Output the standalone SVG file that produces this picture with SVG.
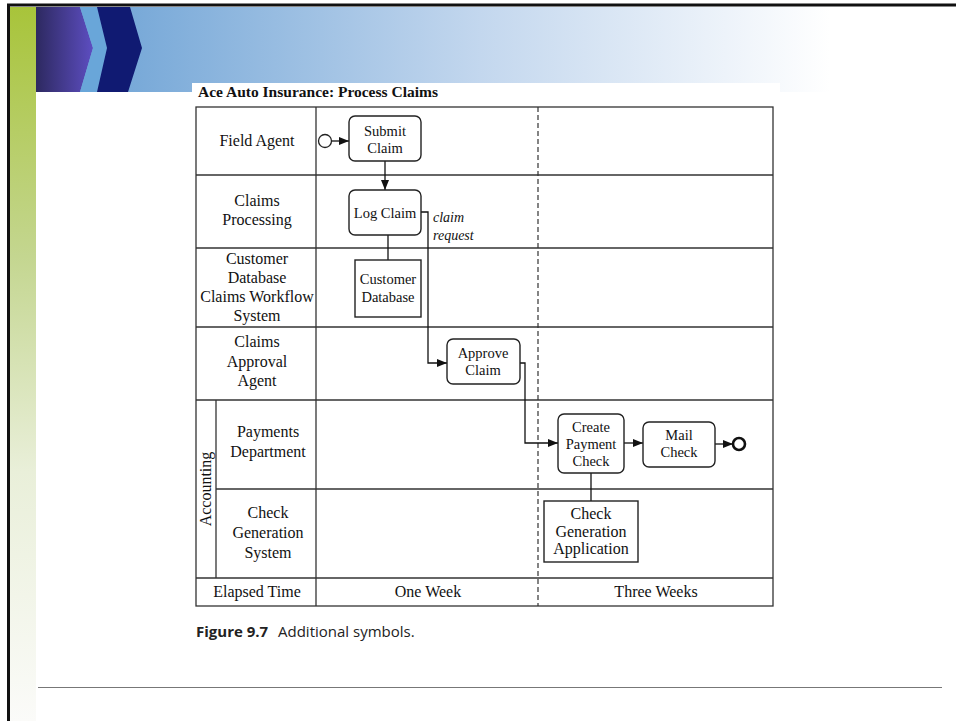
<svg xmlns="http://www.w3.org/2000/svg" width="956" height="721" viewBox="0 0 956 721">
  <defs>
    <linearGradient id="bandGrad" x1="130" y1="0" x2="830" y2="0" gradientUnits="userSpaceOnUse">
      <stop offset="0" stop-color="#78a9d8"/>
      <stop offset="0.5" stop-color="#c3d7ee"/>
      <stop offset="1" stop-color="#ffffff"/>
    </linearGradient>
    <linearGradient id="greenGrad" x1="0" y1="7" x2="0" y2="721" gradientUnits="userSpaceOnUse">
      <stop offset="0" stop-color="#a8c43a"/>
      <stop offset="0.35" stop-color="#c4d690"/>
      <stop offset="0.65" stop-color="#e9efd9"/>
      <stop offset="1" stop-color="#fbfbf9"/>
    </linearGradient>
    <linearGradient id="purpleGrad" x1="36" y1="0" x2="92" y2="0" gradientUnits="userSpaceOnUse">
      <stop offset="0" stop-color="#2d2960"/>
      <stop offset="1" stop-color="#5c4dbf"/>
    </linearGradient>
    <marker id="arrow" viewBox="0 0 10 8" refX="10" refY="4" markerWidth="10" markerHeight="8" markerUnits="userSpaceOnUse" orient="auto">
      <path d="M0,0 L10,4 L0,8 Z" fill="#111"/>
    </marker>
  </defs>
  <style>
    .lane { font-family: "Liberation Serif", "DejaVu Serif", serif; font-size: 16px; fill: #111; text-anchor: middle; }
    .box { font-family: "Liberation Serif", "DejaVu Serif", serif; font-size: 14.5px; fill: #111; text-anchor: middle; }
    .big { font-family: "Liberation Serif", "DejaVu Serif", serif; font-size: 16px; fill: #111; text-anchor: middle; }
    .note { font-family: "Liberation Serif", "DejaVu Serif", serif; font-size: 14px; font-style: italic; fill: #111; }
    .grid { stroke: #333; stroke-width: 1.3; fill: none; }
    .task { fill: #fff; stroke: #222; stroke-width: 1.4; }
    .sys { fill: #fff; stroke: #222; stroke-width: 1.4; }
    .flow { stroke: #111; stroke-width: 1.3; fill: none; }
  </style>

  <!-- page background and slide decoration -->
  <rect x="0" y="0" width="956" height="721" fill="#fff"/>
  <rect x="36" y="7" width="920" height="85" fill="url(#bandGrad)"/>
  <rect x="10" y="7" width="26" height="714" fill="url(#greenGrad)"/>
  <polygon points="36,7 80,7 93,48 80,92 36,92" fill="url(#purpleGrad)"/>
  <polygon points="80,7 97,7 107,48 97,92 80,92 93,48" fill="#69a6d9"/>
  <polygon points="97,7 130,7 142,48 128,92 97,92 107,48" fill="#101a72"/>
  <line x1="7" y1="5" x2="956" y2="5" stroke="#111" stroke-width="3"/>
  <line x1="8.5" y1="5" x2="8.5" y2="721" stroke="#111" stroke-width="3"/>
  <line x1="38" y1="687.5" x2="942" y2="687.5" stroke="#777" stroke-width="1"/>

  <!-- figure area -->
  <rect x="192" y="83" width="588" height="527" fill="#fff"/>
  <text x="198" y="97" font-family="Liberation Serif, DejaVu Serif, serif" font-size="15.5px" font-weight="bold" fill="#111">Ace Auto Insurance: Process Claims</text>

  <!-- swimlane grid -->
  <g id="lanes">
    <rect class="grid" x="196" y="107" width="577" height="499"/>
    <line class="grid" x1="316" y1="107" x2="316" y2="606"/>
    <line class="grid" x1="196" y1="175" x2="773" y2="175"/>
    <line class="grid" x1="196" y1="248" x2="773" y2="248"/>
    <line class="grid" x1="196" y1="327" x2="773" y2="327"/>
    <line class="grid" x1="196" y1="400" x2="773" y2="400"/>
    <line class="grid" x1="216" y1="489" x2="773" y2="489"/>
    <line class="grid" x1="196" y1="578" x2="773" y2="578"/>
    <line class="grid" x1="216" y1="400" x2="216" y2="578"/>
    <line x1="538" y1="107" x2="538" y2="606" stroke="#333" stroke-width="1.2" stroke-dasharray="5,3"/>

    <text class="lane" x="257" y="146">Field Agent</text>
    <text class="lane" x="257" y="206">Claims</text>
    <text class="lane" x="257" y="225">Processing</text>
    <text class="lane" x="257" y="264">Customer</text>
    <text class="lane" x="257" y="283">Database</text>
    <text class="lane" x="257" y="302">Claims Workflow</text>
    <text class="lane" x="257" y="321">System</text>
    <text class="lane" x="257" y="347">Claims</text>
    <text class="lane" x="257" y="367">Approval</text>
    <text class="lane" x="257" y="386">Agent</text>
    <text class="lane" x="268" y="437">Payments</text>
    <text class="lane" x="268" y="457">Department</text>
    <text class="lane" x="268" y="518">Check</text>
    <text class="lane" x="268" y="538">Generation</text>
    <text class="lane" x="268" y="558">System</text>
    <text class="lane" transform="translate(211,489) rotate(-90)">Accounting</text>
    <text class="lane" x="257" y="597">Elapsed Time</text>
    <text class="lane" x="428" y="597">One Week</text>
    <text class="lane" x="656" y="597">Three Weeks</text>
  </g>

  <!-- connectors -->
  <g id="connectors">
    <line class="flow" x1="331.5" y1="141" x2="349" y2="141" marker-end="url(#arrow)"/>
    <line class="flow" x1="385" y1="161" x2="385" y2="190" marker-end="url(#arrow)"/>
    <line class="flow" x1="388" y1="235" x2="388" y2="260"/>
    <polyline class="flow" points="421,212 428,212 428,363 447,363" marker-end="url(#arrow)"/>
    <polyline class="flow" points="520,363 525,363 525,443 558,443" marker-end="url(#arrow)"/>
    <line class="flow" x1="624" y1="443" x2="643" y2="443" marker-end="url(#arrow)"/>
    <line class="flow" x1="715" y1="444" x2="733" y2="444" marker-end="url(#arrow)"/>
    <line class="flow" x1="591" y1="473" x2="591" y2="501"/>
    <text class="note" x="433" y="222">claim</text>
    <text class="note" x="433" y="240">request</text>
  </g>

  <!-- nodes -->
  <g id="start">
    <circle cx="325" cy="141" r="6.5" fill="#fff" stroke="#222" stroke-width="1.3"/>
  </g>
  <g id="submit-claim">
    <rect class="task" x="349" y="116" width="72" height="45" rx="6"/>
    <text class="box" x="385" y="136">Submit</text>
    <text class="box" x="385" y="153">Claim</text>
  </g>
  <g id="log-claim">
    <rect class="task" x="349" y="190" width="72" height="45" rx="6"/>
    <text class="box" x="385" y="218">Log Claim</text>
  </g>
  <g id="customer-database">
    <rect class="sys" x="355" y="260" width="66" height="57"/>
    <text class="box" x="388" y="284">Customer</text>
    <text class="box" x="388" y="302">Database</text>
  </g>
  <g id="approve-claim">
    <rect class="task" x="447" y="339" width="73" height="45" rx="6"/>
    <text class="box" x="483" y="358">Approve</text>
    <text class="box" x="483" y="375">Claim</text>
  </g>
  <g id="create-payment-check">
    <rect class="task" x="558" y="414" width="66" height="59" rx="6" stroke-width="1.8"/>
    <text class="box" x="591" y="432">Create</text>
    <text class="box" x="591" y="449">Payment</text>
    <text class="box" x="591" y="466">Check</text>
  </g>
  <g id="mail-check">
    <rect class="task" x="643" y="422" width="72" height="45" rx="6"/>
    <text class="box" x="679" y="440">Mail</text>
    <text class="box" x="679" y="457">Check</text>
  </g>
  <g id="end">
    <circle cx="739" cy="444" r="6" fill="#fff" stroke="#111" stroke-width="2.6"/>
  </g>
  <g id="check-generation-application">
    <rect class="sys" x="544" y="501" width="94" height="61" stroke-width="1.8"/>
    <text class="big" x="591" y="519">Check</text>
    <text class="big" x="591" y="537">Generation</text>
    <text class="big" x="591" y="554">Application</text>
  </g>

  <text y="637" font-family="Open Sans, Liberation Sans, sans-serif" font-size="15px" fill="#222"><tspan x="196" font-weight="bold">Figure 9.7</tspan><tspan x="278">Additional symbols.</tspan></text>
</svg>
